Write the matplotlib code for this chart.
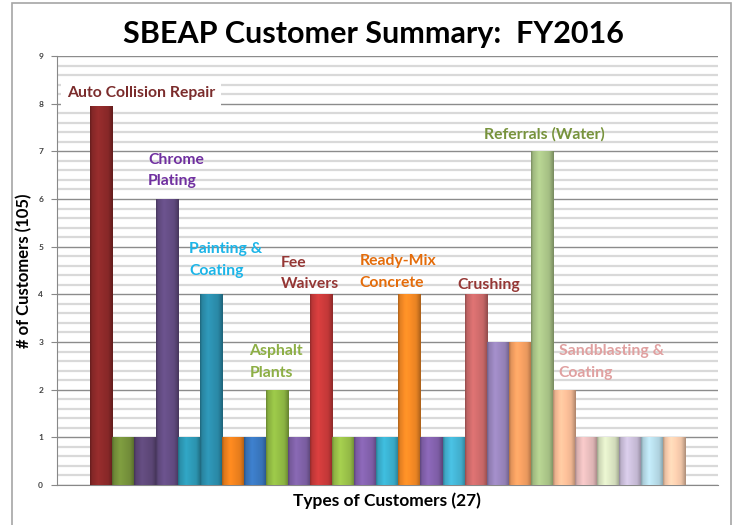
import numpy as np
import matplotlib.pyplot as plt
from matplotlib.patches import Rectangle
from matplotlib.colors import to_rgb

plt.rcParams['font.family'] = ['Lato', 'DejaVu Sans']

# bar values (27 customer types)
values = [8, 1, 1, 6, 1, 4, 1, 1, 2, 1, 4, 1, 1, 1, 4, 1, 1, 4, 3, 3, 7, 2, 1, 1, 1, 1, 1]
colors = ['#8E2A2A', '#77933C', '#5F497A', '#654E85', '#2E9BB8', '#2C8FAE', '#F0821E',
          '#3A78C0', '#93BD45', '#8062A8', '#CC3B3B', '#9BC24A', '#8462AE', '#3BB1D0',
          '#F58A25', '#8462AE', '#45B5D5', '#D06C6C', '#9A86BE', '#F5A062', '#ADC88A',
          '#FBBF99', '#E8BDBD', '#DCE6C4', '#CCC0DC', '#B8DDEA', '#FBCFB0']

# annotations: text, x, y, colour
labels = ['Auto Collision Repair', 'Chrome\nPlating', 'Painting &\nCoating', 'Asphalt\nPlants',
          'Fee\nWaivers', 'Ready-Mix\nConcrete', 'Crushing', 'Referrals (Water)',
          'Sandblasting &\nCoating']
label_x = [-1.55, 2.14, 4.0, 6.73, 8.14, 11.73, 16.18, 17.4, 20.77]
label_y = [8.22, 6.6, 4.72, 2.58, 4.43, 4.47, 4.2, 7.36, 2.58]
label_colors = ['#7B2C2C', '#7030A0', '#1CB5E8', '#8DAF45', '#953735', '#E46C0A',
                '#953735', '#77933C', '#E0A0A0']

fig = plt.figure(figsize=(7.36, 5.25), dpi=100)
ax = fig.add_axes([0.0774, 0.0762, 0.898, 0.8171])

x = np.arange(len(values))
bars = ax.bar(x, values, width=1.0, color=colors, edgecolor='#00000030', linewidth=0.6, zorder=3)

# horizontal shading to mimic the 3D look
t = np.linspace(0, 1, 40)
shade = np.interp(t, [0, 0.08, 0.35, 0.8, 1.0], [0.72, 0.92, 1.08, 0.95, 0.7])
for b, c in zip(bars, colors):
    rgb = np.array(to_rgb(c))
    img = np.clip(shade[None, :, None] * rgb[None, None, :], 0, 1)
    im = ax.imshow(img, extent=[b.get_x(), b.get_x() + b.get_width(), 0, b.get_height()],
                   aspect='auto', zorder=4, interpolation='bilinear')
    im.set_clip_path(b)

ax.set_xlim(-2, 28)
ax.set_ylim(0, 9)

# grid
ax.set_yticks(np.arange(0, 10, 1))
ax.set_yticks(np.arange(0, 9.01, 0.2), minor=True)
ax.grid(axis='y', which='minor', color='#D9D9D9', linewidth=1.6, zorder=0)
ax.grid(axis='y', which='major', color='#8C8C8C', linewidth=1.0, zorder=1)
ax.tick_params(axis='y', which='minor', length=0)
ax.tick_params(axis='y', which='major', length=4, color='#888888', labelsize=6, pad=6)
for lab in ax.get_yticklabels():
    lab.set_fontweight('bold')
    lab.set_color('#404040')
ax.set_xticks([])

for s in ['top', 'right']:
    ax.spines[s].set_visible(False)
ax.spines['left'].set_color('#888888')
ax.spines['bottom'].set_color('#888888')

for txt, lx, ly, lc in zip(labels, label_x, label_y, label_colors):
    bbox = dict(facecolor='white', edgecolor='none', pad=4.5) if txt.startswith('Auto') else None
    ax.text(lx, ly, txt, color=lc, fontsize=11.3, fontweight='bold', ha='left', va='center',
            linespacing=1.65, zorder=6, bbox=bbox)

ax.set_ylabel('# of Customers (105)', fontsize=12, fontweight='bold', labelpad=4)
ax.set_xlabel('Types of Customers (27)', fontsize=12.5, fontweight='bold', labelpad=5)
fig.text(0.507, 0.935, 'SBEAP Customer Summary:  FY2016', ha='center', va='center',
         fontsize=22, fontweight='bold')

# outer chart frame
fig.patches.append(Rectangle((12 / 736, -0.02), 719 / 736, 1.02 - 3 / 525, transform=fig.transFigure,
                             fill=False, edgecolor='#A6A6A6', linewidth=1.2))

fig.savefig('out.png', dpi=100)
